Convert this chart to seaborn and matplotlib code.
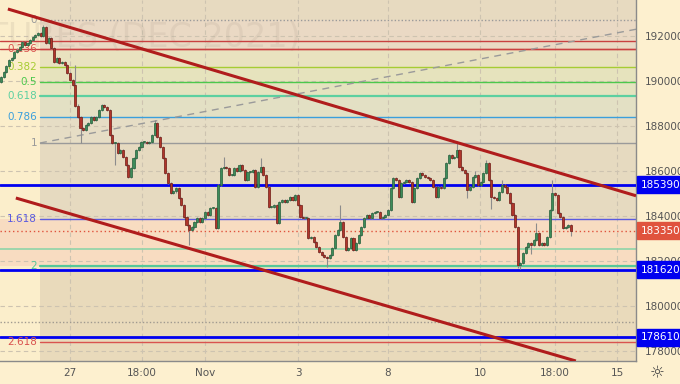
import numpy as np
import pandas as pd
import matplotlib
matplotlib.use("Agg")
import matplotlib.pyplot as plt
import seaborn as sns
from matplotlib.transforms import blended_transform_factory

# closing prices, one per bar
closes = [
    190178, 190400, 190667, 190933, 191022, 191289, 191400, 191511, 191733, 191600,
    191689, 191822, 191956, 192044, 192133, 192000, 192400, 191689, 191911, 191467,
    190844, 191022, 190800, 190844, 190711, 190356, 190044, 189822, 188900, 188400,
    187911, 187822, 188044, 188133, 188400, 188267, 188400, 188711, 188933, 188844,
    188711, 187600, 187244, 187244, 186800, 186933, 186622, 186267, 185733, 186133,
    186578, 186933, 187067, 187289, 187289, 187244,
    187289, 187600, 188133, 187511, 187067, 186578, 185911, 185467, 185022, 185100,
    185244, 184800, 184489, 183956, 183600, 183378, 183500, 183733, 183911, 183733,
    183911, 184178, 184044, 184356, 184356, 183467, 185378, 186133, 186178, 186133,
    185822, 185822, 186133, 186000, 186267, 186044, 185600, 185956, 185956, 186044,
    185289, 185956, 186178, 185822, 185289, 184400, 184400, 184489, 183689, 184622,
    184711, 184622, 184711, 184844, 184711,
    184933, 184489, 183956, 183911, 183911, 183022, 183067, 182844, 182622, 182400,
    182267, 182178, 182133, 182267, 182578, 183156, 183378, 183733, 183067, 182489,
    182578, 183022, 182489, 182800, 183156, 183511, 183911, 184044, 183911, 184133,
    184178, 184178, 183911, 183956, 184044, 184267, 185244, 185689, 185600, 184844,
    185467, 185511, 185600, 185511, 184622, 185244, 185689, 185911, 185822, 185733,
    185689, 185600, 185289, 184844, 185289,
    185244, 185689, 186356, 186711, 186578, 186622, 186933, 186178, 186044, 185911,
    185156, 185289, 185733, 185822, 185378, 185511, 185911, 186356, 185600, 184844,
    184800, 184711, 185067, 185378, 185289, 185022, 184578, 184044, 183511, 181822,
    181911, 182356, 182622, 182800, 182711, 182933, 183244, 182711, 182800, 182711,
    183067, 184267, 185022, 184933, 184133, 183956, 183467, 183511, 183600, 183350,
]
first_open = 189950
wick = 60
# longer wicks that stand out
high_marks = {16: 192489, 28: 190711, 58: 188267, 84: 186622, 98: 186600,
              128: 184489, 172: 187244, 179: 186000, 183: 186500, 189: 185600,
              202: 183700, 208: 185600}
low_marks = {30: 187244, 43: 186267, 71: 182711, 123: 181733, 176: 184800,
             185: 184300, 195: 181689, 196: 181650, 200: 182300, 215: 183100}

# fibonacci retracement
fib_top = 192711
fib_bottom = 187244
fib_ratios = [0, 0.236, 0.382, 0.5, 0.618, 0.786, 1, 1.618, 2, 2.618]
fib_labels = ["0", "0.236", "0.382", "0.5", "0.618", "0.786", "1", "1.618", "2", "2.618"]
fib_colors = ["#9a9a9a", "#d9534f", "#a6cc33", "#4cc84c", "#5cd0a0", "#3a9fdc",
              "#9a9a9a", "#5a5ae0", "#55c89a", "#d9534f"]
fib_fills = ["#ead9c4", "#e9e2bf", "#e6e3bd", "#e4e3bf", "#e3e0c4", "#e6ddc5",
             "#e6dac0"]

# marked price levels
blue_levels = [185390, 181620, 178610]
red_lines = [191780, 191420]
last_price = 183350
green_line = 182530
gray_dotted = 179290

# channel and trend lines: (bar, price) endpoints
upper_channel = [(2.6, 193200), (239.6, 184900)]
lower_channel = [(5.6, 184800), (216.9, 177556)]
dashed_trend = [(14.7, 187244), (239.6, 192300)]

tick_pos = [26.0, 53.2, 77.0, 112.1, 146.0, 180.8, 209.1, 232.5]
tick_labels = ["27", "18:00", "Nov", "3", "8", "10", "18:00", "15"]
price_ticks = [178000, 180000, 182000, 184000, 186000, 188000, 190000, 192000]

df = pd.DataFrame({"close": closes})
df["open"] = [first_open] + closes[:-1]
df["high"] = df[["open", "close"]].max(axis=1) + wick
df["low"] = df[["open", "close"]].min(axis=1) - wick
for k, v in high_marks.items():
    df.loc[k, "high"] = v
for k, v in low_marks.items():
    df.loc[k, "low"] = v
df["x"] = np.arange(len(df))
df["up"] = df["close"] >= df["open"]

sns.set_theme(style="white", rc={"axes.edgecolor": "#8a8a8a"})
plt.rcParams["font.family"] = ["DejaVu Sans"]

fig = plt.figure(figsize=(6.8, 3.84), dpi=100, facecolor="#fdf0cf")
ax = fig.add_axes([0, 23 / 384, 636 / 680, 361 / 384])
ax.set_facecolor("#fbeecb")

x_left, x_right = -0.38, 239.6
y_low, y_high = 177556, 193600
fib_x0 = 14.7
levels = [fib_top - r * (fib_top - fib_bottom) for r in fib_ratios]

# backgrounds
ax.fill_between([fib_x0, x_right], levels[7], y_high, color="#e7dac0", lw=0, zorder=0)
ax.fill_between([fib_x0, x_right], y_low, levels[8], color="#e9dabb", lw=0, zorder=0)
ax.fill_between([x_left, x_right], levels[8], levels[7], color="#f8dcc1", lw=0, zorder=0)
for i, c in enumerate(fib_fills):
    ax.fill_between([fib_x0, x_right], levels[i + 1], levels[i], color=c, lw=0, zorder=0.5)

# grid
for t in tick_pos:
    ax.axvline(t, color="#cdc3b0", lw=0.8, ls=(0, (4, 3)), zorder=1)
for p in price_ticks:
    ax.axhline(p, color="#cdc3b0", lw=0.8, ls=(0, (4, 3)), zorder=1)

# watermark
ax.text(113, 191950, "FUTURES (DEC 2021)", fontsize=24, color="#b8aa98", alpha=0.22,
        ha="right", va="center", zorder=1, clip_on=True)

# fib lines and labels
for lev, lab, col, r in zip(levels, fib_labels, fib_colors, fib_ratios):
    ls = (0, (1, 1.5)) if r == 0 else "-"
    lw = 1.6 if r in (0.618, 2) else 1.0
    ax.plot([fib_x0, x_right], [lev, lev], color=col, lw=lw, ls=ls, zorder=2)
    ax.text(13.6, lev, lab, color=col, fontsize=7.5, ha="right", va="center", zorder=5)

for p in red_lines:
    ax.axhline(p, color="#c94040", lw=1.0, zorder=2)
ax.axhline(green_line, color="#8fd4a8", lw=1.2, zorder=2)
ax.axhline(gray_dotted, color="#a09a90", lw=1.0, ls=(0, (1, 1.5)), zorder=2)
ax.axhline(last_price, color="#e0533d", lw=1.0, ls=(0, (1, 2)), zorder=2)
for p in blue_levels:
    ax.axhline(p, color="#0000f0", lw=2.0, zorder=3)

# dashed trend line
ax.plot(*zip(*dashed_trend), color="#9a9a9a", lw=1.0, ls=(0, (5, 4)), zorder=2)

# candles
ax.vlines(df["x"], df["low"], df["high"], color="#8c8c8c", lw=0.8, zorder=4)
body = (df["close"] - df["open"]).abs().clip(lower=25)
bottom = df[["open", "close"]].min(axis=1)
ax.bar(df["x"], body, bottom=bottom, width=0.78,
       color=np.where(df["up"], "#3d8c5a", "#b0352b"),
       edgecolor=np.where(df["up"], "#245e3a", "#6e1a14"), linewidth=0.5, zorder=5)

# channel
for line in (upper_channel, lower_channel):
    ax.plot(*zip(*line), color="#b01c1c", lw=2.2, solid_capstyle="butt", zorder=6)

ax.set_xlim(x_left, x_right)
ax.set_ylim(y_low, y_high)
ax.set_xticks(tick_pos)
ax.set_xticklabels(tick_labels)
ax.set_yticks(price_ticks)
ax.set_yticklabels([str(p) for p in price_ticks])
ax.yaxis.tick_right()
ax.tick_params(axis="both", length=0, labelsize=7.5, colors="#555555")
ax.tick_params(axis="y", pad=6)
ax.tick_params(axis="x", pad=5)
for s in ("top", "left"):
    ax.spines[s].set_visible(False)
for s in ("right", "bottom"):
    ax.spines[s].set_color("#8a8a8a")
    ax.spines[s].set_linewidth(1.0)

# price tags on the right scale
trans = blended_transform_factory(ax.transAxes, ax.transData)
for p in blue_levels:
    ax.text(1.0 + 5 / 636, p, str(p), transform=trans, color="white", fontsize=7.5,
            ha="left", va="center", clip_on=False, zorder=10,
            bbox=dict(boxstyle="square,pad=0.35", fc="#0000f0", ec="#0000f0"))
ax.text(1.0 + 5 / 636, last_price, str(last_price), transform=trans, color="white",
        fontsize=7.5, ha="left", va="center", clip_on=False, zorder=10,
        bbox=dict(boxstyle="square,pad=0.35", fc="#e0533d", ec="#e0533d"))

fig.text(657 / 680, 1 - 373 / 384, "\u263c", fontsize=12, color="#444444",
         ha="center", va="center")

fig.savefig("out.png", dpi=100, facecolor=fig.get_facecolor())
